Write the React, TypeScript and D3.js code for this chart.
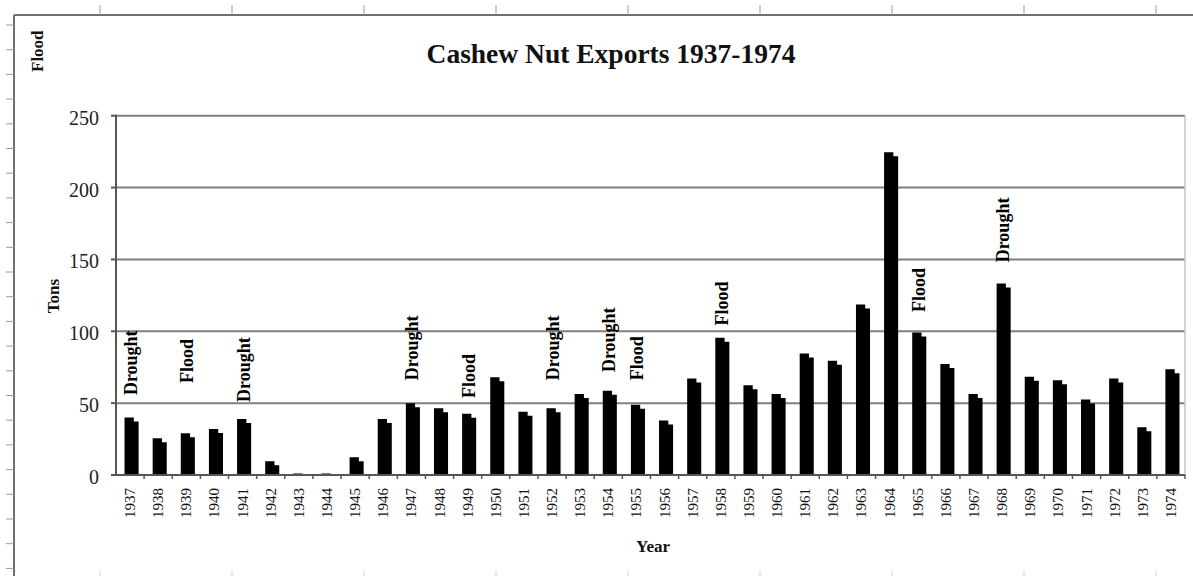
import React from 'react';
import * as d3 from 'd3';

const years = ['1937','1938','1939','1940','1941','1942','1943','1944','1945','1946','1947','1948','1949','1950','1951','1952','1953','1954','1955','1956','1957','1958','1959','1960','1961','1962','1963','1964','1965','1966','1967','1968','1969','1970','1971','1972','1973','1974'];
const tons = [40,25.5,29,32,39,9.5,1,1,12.3,39,50,46.4,42.7,68,44,46.4,56.3,58.7,48.9,38,67.2,95.5,62.4,56.3,84.6,79.5,118.7,224.5,99.2,77.2,56.3,133.3,68.4,66,52.6,67.2,33.2,73.5];
const yTicks = [0, 50, 100, 150, 200, 250];
const noteYears = ['1937','1939','1941','1947','1949','1952','1954','1955','1958','1965','1968'];
const noteLabels = ['Drought','Flood','Drought','Drought','Flood','Drought','Drought','Flood','Flood','Flood','Drought'];
const noteBase = [55.6,64,50.8,66,53.6,66,71.6,66,104,113.4,148];

const title = 'Cashew Nut Exports 1937-1974';
const xTitle = 'Year';
const yTitle = 'Tons';
const strayLabel = 'Flood';

const SERIF = "'Liberation Serif', 'Times New Roman', 'DejaVu Serif', serif";

export default function App() {
  const W = 1193, H = 576;
  const plot = { left: 116, right: 1185, top: 115.7, bottom: 475 };
  const x = d3.scaleBand<string>().domain(years).range([plot.left, plot.right]).paddingInner(0.5).paddingOuter(0.25);
  const y = d3.scaleLinear().domain([0, 250]).range([plot.bottom, plot.top]);
  const step = x.step();
  const bw = x.bandwidth();
  const barShift = 1.5;
  const slotStart = (d: string) => (x(d) as number) - (step - bw) / 2;

  const leftRuler = d3.range(25, H, 24.7);
  const topRuler = d3.range(100, W, 132);

  const barPath = (d: string, v: number) => {
    const x0 = (x(d) as number) + barShift;
    const x1 = x0 + bw;
    const xm = x0 + bw * 0.66;
    const yt = y(v);
    const yb = y(0);
    const notch = Math.min(4, yb - yt);
    return `M${x0},${yb}L${x0},${yt}L${xm},${yt}L${xm},${yt + notch}L${x1},${yt + notch}L${x1},${yb}Z`;
  };

  return (
    <div style={{ position: 'absolute', left: 0, top: 0 }}>
      <svg width={W} height={H} style={{ display: 'block', background: '#fff' }}>
        {/* outer frame */}
        <line x1={14} y1={15} x2={14} y2={H} stroke="#707070" strokeWidth={2} />
        <line x1={14} y1={15} x2={W} y2={15} stroke="#707070" strokeWidth={2} />
        {leftRuler.map((v, i) => (
          <line key={'lr' + i} x1={6} x2={14} y1={v} y2={v} stroke="#9a9a9a" strokeWidth={1} />
        ))}
        {topRuler.map((v, i) => (
          <line key={'tr' + i} x1={v} x2={v} y1={5} y2={15} stroke="#9a9a9a" strokeWidth={1} />
        ))}
        {topRuler.map((v, i) => (
          <line key={'br' + i} x1={v} x2={v} y1={571} y2={H} stroke="#d0d0d0" strokeWidth={1} />
        ))}

        {/* stray label */}
        <text transform={`translate(37,72) rotate(-90)`} fontFamily={SERIF} fontWeight="bold" fontSize={17} dominantBaseline="central" fill="#111">{strayLabel}</text>

        {/* title */}
        <text x={611} y={63} textAnchor="middle" fontFamily={SERIF} fontWeight="bold" fontSize={27.5} fill="#111">{title}</text>

        {/* gridlines */}
        {yTicks.filter(t => t > 0).map(t => (
          <line key={'g' + t} x1={plot.left} x2={plot.right} y1={y(t)} y2={y(t)} stroke="#7f7f7f" strokeWidth={2} />
        ))}
        {/* right plot border */}
        <line x1={plot.right} x2={plot.right} y1={plot.top} y2={plot.bottom} stroke="#c4c4c4" strokeWidth={1.5} />

        {/* bars */}
        {years.map((d, i) => (
          <path key={'b' + d} d={barPath(d, tons[i])} fill="#000" />
        ))}

        {/* axes */}
        <line x1={plot.left} x2={plot.left} y1={plot.top - 1} y2={plot.bottom + 1} stroke="#555" strokeWidth={2} />
        <line x1={plot.left - 1} x2={plot.right} y1={plot.bottom} y2={plot.bottom} stroke="#555" strokeWidth={2} />
        {yTicks.map(t => (
          <line key={'yt' + t} x1={plot.left - 5} x2={plot.left} y1={y(t)} y2={y(t)} stroke="#555" strokeWidth={2} />
        ))}
        {years.map(d => (
          <line key={'xt' + d} x1={slotStart(d) + step} x2={slotStart(d) + step} y1={plot.bottom} y2={plot.bottom + 4} stroke="#555" strokeWidth={1.5} />
        ))}
        {yTicks.map(t => (
          <text key={'yl' + t} x={99} y={y(t) + 2} textAnchor="end" dominantBaseline="central" fontFamily={SERIF} fontSize={20} fill="#222">{t}</text>
        ))}
        {years.map(d => (
          <text key={'xl' + d} transform={`translate(${(x(d) as number) + bw / 2},488) rotate(-90)`} textAnchor="end" dominantBaseline="central" fontFamily={SERIF} fontSize={15} fill="#111">{d}</text>
        ))}

        {/* annotations */}
        {noteYears.map((d, i) => (
          <text key={'n' + i} transform={`translate(${(x(d) as number) + bw / 2 + 1},${y(noteBase[i])}) rotate(-90)`} dominantBaseline="central" fontFamily={SERIF} fontWeight="bold" fontSize={18} fill="#000">{noteLabels[i]}</text>
        ))}

        {/* axis titles */}
        <text transform={`translate(53,296) rotate(-90)`} textAnchor="middle" dominantBaseline="central" fontFamily={SERIF} fontWeight="bold" fontSize={17} fill="#111">{yTitle}</text>
        <text x={653} y={552} textAnchor="middle" fontFamily={SERIF} fontWeight="bold" fontSize={17} fill="#111">{xTitle}</text>
      </svg>
    </div>
  );
}
